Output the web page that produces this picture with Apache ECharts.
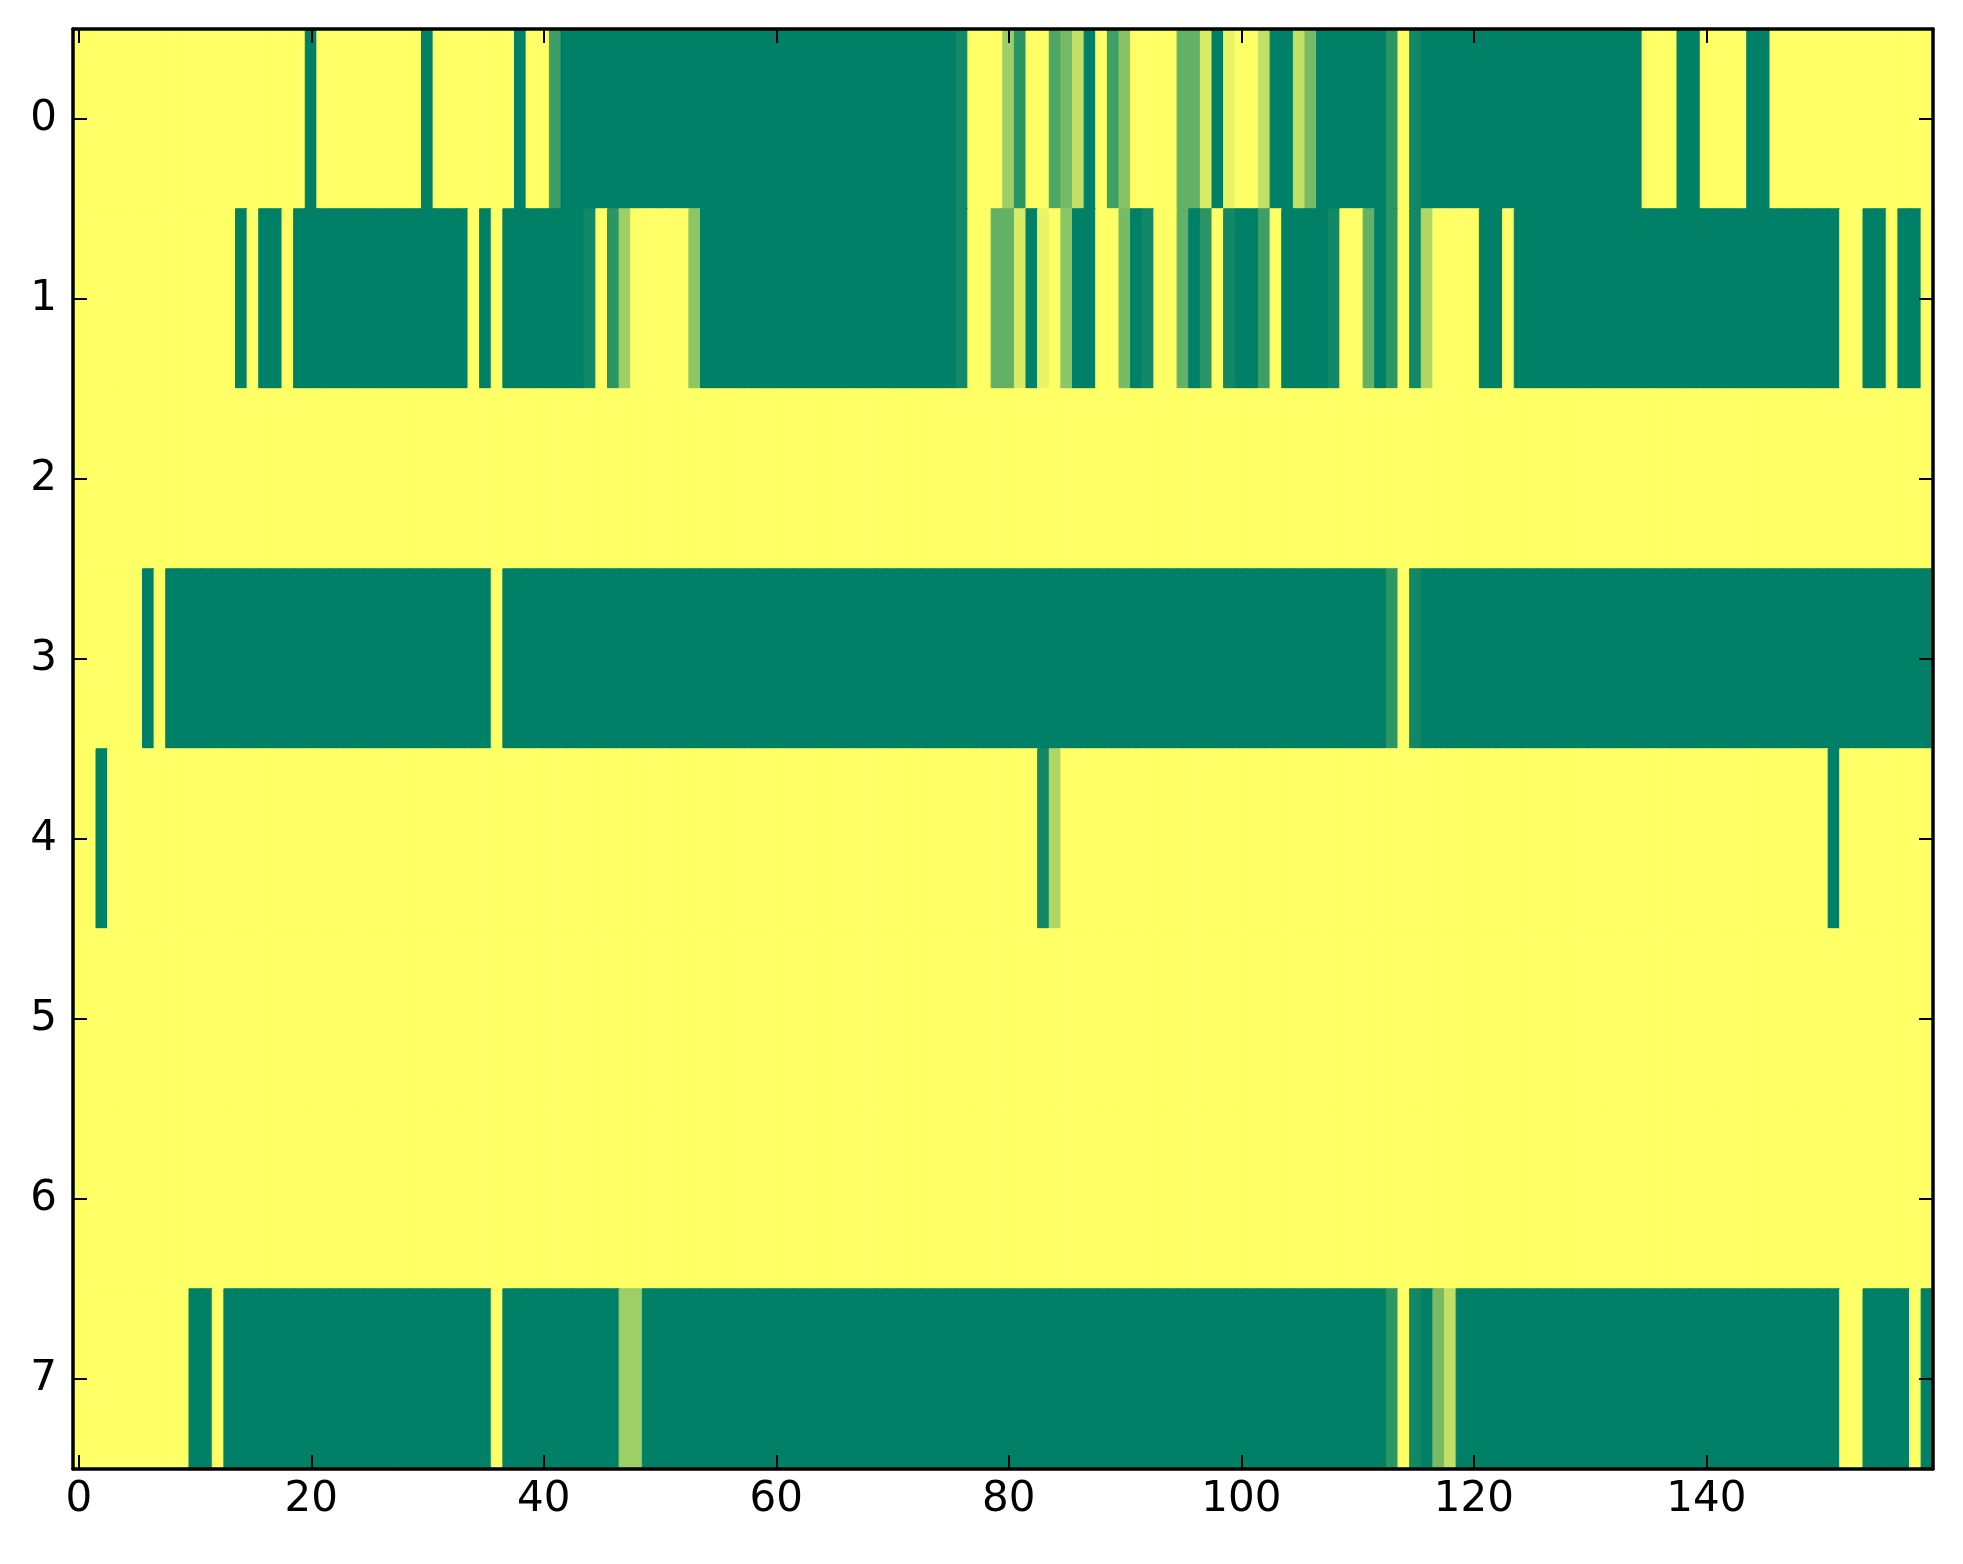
<!DOCTYPE html>
<html>
<head>
<meta charset="utf-8">
<script src="https://cdn.jsdelivr.net/npm/echarts@6/dist/echarts.min.js"></script>
<style>
    html, body { margin: 0; padding: 0; background: #fff; }
    #chart { width: 1963px; height: 1564px; }
</style>
</head>
<body>
<div id="chart"></div>
<script>
    // column / row categories
    var xCats = [];
    for (var i = 0; i < 160; i++) { xCats.push(String(i)); }
    var yCats = ['0', '1', '2', '3', '4', '5', '6', '7'];

    // cell values, one array per row (0 = green, 1 = yellow)
    var row0 = [
        1,1,1,1,1,1,1,1,1,1,1,1,1,1,1,1,1,1,1,1,
        0,1,1,1,1,1,1,1,1,1,0,1,1,1,1,1,1,1,0,1,
        1,0.24,0,0,0,0,0,0,0,0,0,0,0,0,0,0,0,0,0,0,
        0,0,0,0,0,0,0,0,0,0,0,0,0,0,0,0,0.07,1,1,1,
        0.62,0.17,1,1,0.31,0.46,0.76,0,1,0.24,0.53,1,1,1,1,0.39,0.39,0.85,0,0.91,
        1,1,0.76,0,0,0.76,0.47,0,0,0,0,0,0,0.17,1,0.07,0,0,0,0,
        0,0,0,0,0,0,0,0,0,0,0,0,0,0,0,1,1,1,0,0,
        1,1,1,1,0,0,1,1,1,1,1,1,1,1,1,1,1,1,1,1
    ];
    var row1 = [
        1,1,1,1,1,1,1,1,1,1,1,1,1,1,0,1,0,0,1,0,
        0,0,0,0,0,0,0,0,0,0,0,0,0,0,1,0,1,0,0,0,
        0,0,0,0,0.07,1,0.17,0.62,1,1,1,1,1,0.55,0,0,0,0,0,0,
        0,0,0,0,0,0,0,0,0,0,0,0,0,0,0,0,0.07,1,1,0.39,
        0.39,0.85,0,0.91,1,0.55,0,0,1,1,0.47,0,0.07,1,1,0.39,0,0.17,1,0.07,
        0,0,0.24,1,0,0,0,0,0.07,1,1,0.39,0,0.17,1,0.07,0.69,1,1,1,
        1,0,0,1,0,0,0,0,0,0,0,0,0,0,0,0,0,0,0,0,
        0,0,0,0,0,0,0,0,0,0,0,0,1,1,0,0,1,0,0,1
    ];
    var row2 = [
        1,1,1,1,1,1,1,1,1,1,1,1,1,1,1,1,1,1,1,1,
        1,1,1,1,1,1,1,1,1,1,1,1,1,1,1,1,1,1,1,1,
        1,1,1,1,1,1,1,1,1,1,1,1,1,1,1,1,1,1,1,1,
        1,1,1,1,1,1,1,1,1,1,1,1,1,1,1,1,1,1,1,1,
        1,1,1,1,1,1,1,1,1,1,1,1,1,1,1,1,1,1,1,1,
        1,1,1,1,1,1,1,1,1,1,1,1,1,1,1,1,1,1,1,1,
        1,1,1,1,1,1,1,1,1,1,1,1,1,1,1,1,1,1,1,1,
        1,1,1,1,1,1,1,1,1,1,1,1,1,1,1,1,1,1,1,1
    ];
    var row3 = [
        1,1,1,1,1,1,0,1,0,0,0,0,0,0,0,0,0,0,0,0,
        0,0,0,0,0,0,0,0,0,0,0,0,0,0,0,0,1,0,0,0,
        0,0,0,0,0,0,0,0,0,0,0,0,0,0,0,0,0,0,0,0,
        0,0,0,0,0,0,0,0,0,0,0,0,0,0,0,0,0,0,0,0,
        0,0,0,0,0,0,0,0,0,0,0,0,0,0,0,0,0,0,0,0,
        0,0,0,0,0,0,0,0,0,0,0,0,0,0.17,1,0.07,0,0,0,0,
        0,0,0,0,0,0,0,0,0,0,0,0,0,0,0,0,0,0,0,0,
        0,0,0,0,0,0,0,0,0,0,0,0,0,0,0,0,0,0,0,0
    ];
    var row4 = [
        1,1,0,1,1,1,1,1,1,1,1,1,1,1,1,1,1,1,1,1,
        1,1,1,1,1,1,1,1,1,1,1,1,1,1,1,1,1,1,1,1,
        1,1,1,1,1,1,1,1,1,1,1,1,1,1,1,1,1,1,1,1,
        1,1,1,1,1,1,1,1,1,1,1,1,1,1,1,1,1,1,1,1,
        1,1,1,0.07,0.69,1,1,1,1,1,1,1,1,1,1,1,1,1,1,1,
        1,1,1,1,1,1,1,1,1,1,1,1,1,1,1,1,1,1,1,1,
        1,1,1,1,1,1,1,1,1,1,1,1,1,1,1,1,1,1,1,1,
        1,1,1,1,1,1,1,1,1,1,1,0,1,1,1,1,1,1,1,1
    ];
    var row5 = [
        1,1,1,1,1,1,1,1,1,1,1,1,1,1,1,1,1,1,1,1,
        1,1,1,1,1,1,1,1,1,1,1,1,1,1,1,1,1,1,1,1,
        1,1,1,1,1,1,1,1,1,1,1,1,1,1,1,1,1,1,1,1,
        1,1,1,1,1,1,1,1,1,1,1,1,1,1,1,1,1,1,1,1,
        1,1,1,1,1,1,1,1,1,1,1,1,1,1,1,1,1,1,1,1,
        1,1,1,1,1,1,1,1,1,1,1,1,1,1,1,1,1,1,1,1,
        1,1,1,1,1,1,1,1,1,1,1,1,1,1,1,1,1,1,1,1,
        1,1,1,1,1,1,1,1,1,1,1,1,1,1,1,1,1,1,1,1
    ];
    var row6 = [
        1,1,1,1,1,1,1,1,1,1,1,1,1,1,1,1,1,1,1,1,
        1,1,1,1,1,1,1,1,1,1,1,1,1,1,1,1,1,1,1,1,
        1,1,1,1,1,1,1,1,1,1,1,1,1,1,1,1,1,1,1,1,
        1,1,1,1,1,1,1,1,1,1,1,1,1,1,1,1,1,1,1,1,
        1,1,1,1,1,1,1,1,1,1,1,1,1,1,1,1,1,1,1,1,
        1,1,1,1,1,1,1,1,1,1,1,1,1,1,1,1,1,1,1,1,
        1,1,1,1,1,1,1,1,1,1,1,1,1,1,1,1,1,1,1,1,
        1,1,1,1,1,1,1,1,1,1,1,1,1,1,1,1,1,1,1,1
    ];
    var row7 = [
        1,1,1,1,1,1,1,1,1,1,0,0,1,0,0,0,0,0,0,0,
        0,0,0,0,0,0,0,0,0,0,0,0,0,0,0,0,1,0,0,0,
        0,0,0,0,0,0,0,0.62,0.62,0,0,0,0,0,0,0,0,0,0,0,
        0,0,0,0,0,0,0,0,0,0,0,0,0,0,0,0,0,0,0,0,
        0,0,0,0,0,0,0,0,0,0,0,0,0,0,0,0,0,0,0,0,
        0,0,0,0,0,0,0,0,0,0,0,0,0,0.17,1,0.07,0,0.47,0.76,0,
        0,0,0,0,0,0,0,0,0,0,0,0,0,0,0,0,0,0,0,0,
        0,0,0,0,0,0,0,0,0,0,0,0,1,1,0,0,0,0,1,0
    ];
    var rows = [row0, row1, row2, row3, row4, row5, row6, row7];

    // tick every 20 columns
    var xTickStep = 20;

    // 'summer' colormap: green (0) -> yellow (1)
    function summer(v) {
        var r = Math.round(255 * v);
        var g = Math.round(255 * (0.5 + 0.5 * v));
        return 'rgb(' + r + ',' + g + ',102)';
    }

    var cells = [];
    for (var r = 0; r < rows.length; r++) {
        for (var c = 0; c < rows[r].length; c++) {
            var col = summer(rows[r][c]);
            // border in the same colour hides the seams between cells
            cells.push({
                value: [c, r, rows[r][c]],
                itemStyle: { color: col, borderColor: col, borderWidth: 1 }
            });
        }
    }

    var mychart = echarts.init(document.getElementById('chart'));

    var everyStep = function (idx) { return idx % xTickStep === 0; };
    var frame = { show: true, onZero: false, lineStyle: { color: '#000', width: 3.5 } };
    var tickStyle = { color: '#000', width: 2 };
    var labelFont = { color: '#000', fontFamily: 'DejaVu Sans', fontSize: 42 };

    var option = {
        backgroundColor: '#fff',
        animation: false,
        grid: { left: 73, top: 29, width: 1860, height: 1440 },
        xAxis: [{
            type: 'category',
            data: xCats,
            position: 'bottom',
            z: 10,
            axisLine: frame,
            axisTick: { show: true, inside: true, alignWithLabel: true, interval: everyStep, length: 14, lineStyle: tickStyle },
            axisLabel: Object.assign({ interval: everyStep, margin: 10 }, labelFont),
            splitLine: { show: false }
        }, {
            type: 'category',
            data: xCats,
            position: 'top',
            z: 10,
            axisLine: frame,
            axisTick: { show: true, inside: true, alignWithLabel: true, interval: everyStep, length: 14, lineStyle: tickStyle },
            axisLabel: { show: false },
            splitLine: { show: false }
        }],
        yAxis: [{
            type: 'category',
            data: yCats,
            inverse: true,
            position: 'left',
            z: 10,
            axisLine: frame,
            axisTick: { show: true, inside: true, alignWithLabel: true, length: 14, lineStyle: tickStyle },
            axisLabel: Object.assign({ margin: 16 }, labelFont),
            splitLine: { show: false }
        }, {
            type: 'category',
            data: yCats,
            inverse: true,
            position: 'right',
            z: 10,
            axisLine: frame,
            axisTick: { show: true, inside: true, alignWithLabel: true, length: 14, lineStyle: tickStyle },
            axisLabel: { show: false },
            splitLine: { show: false }
        }],
        series: [{
            type: 'heatmap',
            xAxisIndex: 0,
            yAxisIndex: 0,
            data: cells,
            emphasis: { disabled: true }
        }]
    };

    mychart.setOption(option);
</script>
</body>
</html>
